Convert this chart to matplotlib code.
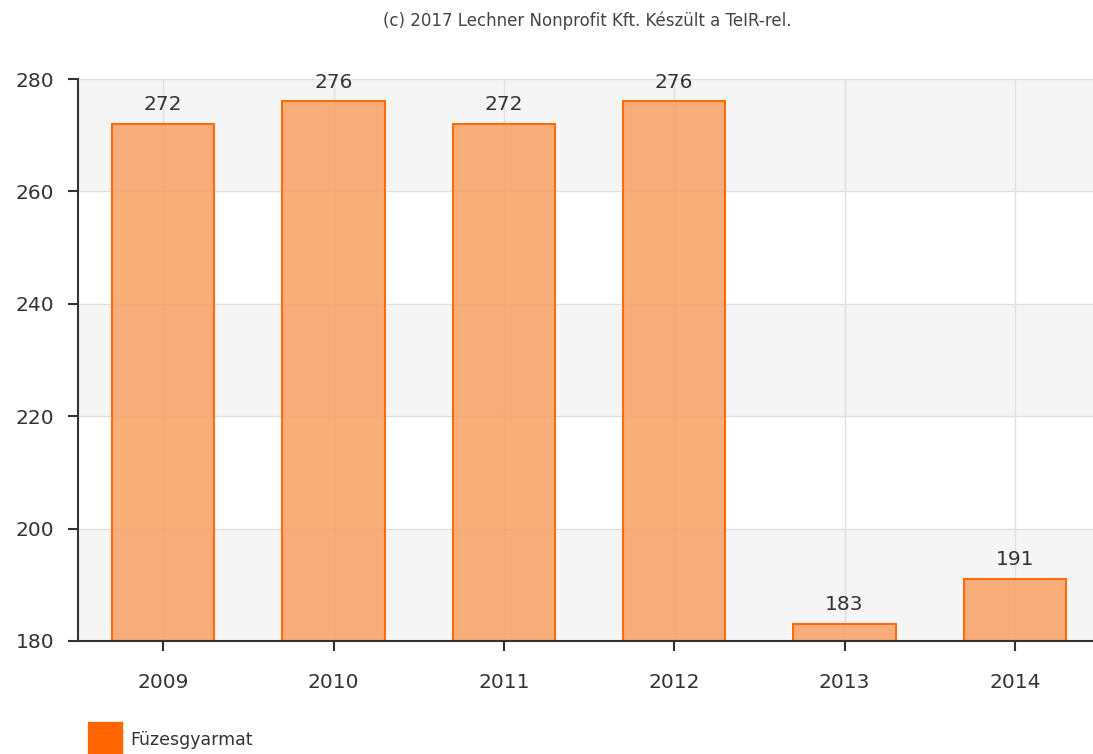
import matplotlib
matplotlib.use('Agg')
import matplotlib.pyplot as plt
from matplotlib.patches import Rectangle

# Data
years = ['2009', '2010', '2011', '2012', '2013', '2014']
values = [272, 276, 272, 276, 183, 191]
series_name = 'Füzesgyarmat'
y_ticks = [180, 200, 220, 240, 260, 280]

fig = plt.figure(figsize=(10.93, 7.54), dpi=100)
ax = fig.add_axes([0.0714, 0.1499, 0.935, 0.7453])

x = list(range(len(years)))

# Alternating background bands
for i in range(len(y_ticks) - 1):
    if i % 2 == 0:
        ax.axhspan(y_ticks[i], y_ticks[i + 1], color='#f5f5f5', zorder=0, lw=0)

ax.set_axisbelow(True)
ax.grid(True, color='#e0e0e0', lw=1, zorder=1)

# mostly opaque fill, the grid just shows through like the original
bars = ax.bar(x, [v - 180 for v in values], bottom=180, width=0.6,
              facecolor=(248 / 255, 160 / 255, 99 / 255, 0.85), edgecolor='#ff6c0c',
              linewidth=1.5, zorder=2)

# Value labels above bars
for xi, v in zip(x, values):
    ax.annotate(str(v), (xi, v), textcoords='offset points', xytext=(0, 7),
                ha='center', va='bottom', fontsize=14.5, color='#333333')

ax.set_xlim(-0.5, len(years) - 0.5)
ax.set_ylim(180, 280)
ax.set_xticks(x)
ax.set_xticklabels(years)
ax.set_yticks(y_ticks)
ax.tick_params(axis='both', labelsize=14.5, colors='#333333', length=7, width=1.5)
ax.tick_params(axis='x', pad=16)
ax.tick_params(axis='y', pad=10)

for side in ['top', 'right']:
    ax.spines[side].set_visible(False)
for side in ['left', 'bottom']:
    ax.spines[side].set_color('#333333')
    ax.spines[side].set_linewidth(1.5)

fig.text(0.537, 0.972, '(c) 2017 Lechner Nonprofit Kft. Készült a TeIR-rel.',
         ha='center', va='center', fontsize=12, color='#444444')

# Legend
fig.patches.append(Rectangle((88 / 1093, 0), 34 / 1093, 32 / 754,
                             transform=fig.transFigure, color='#ff6600'))
fig.text(130 / 1093, 14 / 754, series_name, ha='left', va='center',
         fontsize=12.5, color='#333333')

plt.savefig('out.png', dpi=100)
